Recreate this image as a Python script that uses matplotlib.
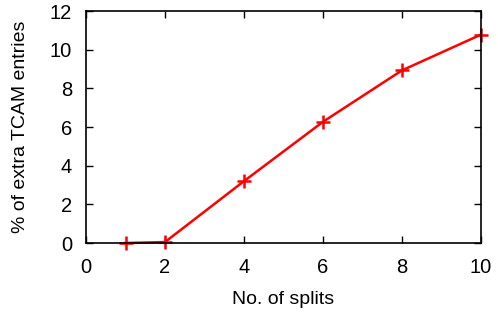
import matplotlib
matplotlib.use("Agg")
import matplotlib.pyplot as plt

splits = [1, 2, 4, 6, 8, 10]
extra_pct = [0.0, 0.05, 3.2, 6.27, 8.93, 10.78]

plt.rcParams['font.family'] = ['Liberation Sans', 'DejaVu Sans']

fig = plt.figure(figsize=(4.98, 3.18), dpi=100)
ax = fig.add_axes([0.1727, 0.2358, 0.9659 - 0.1727, 0.9654 - 0.2358])
ax.plot(splits, extra_pct, color='red', lw=1.8, marker='+', ms=10, mew=1.8, clip_on=False)

ax.set_xlim(0, 10)
ax.set_ylim(0, 12)
ax.set_xticks(range(0, 11, 2))
ax.set_yticks(range(0, 13, 2))
ax.tick_params(direction='in', top=True, right=True, length=5, width=1, labelsize=14.5)
ax.tick_params(axis='x', pad=11)
ax.tick_params(axis='y', pad=10)
for s in ax.spines.values():
    s.set_linewidth(1.2)
ax.set_xlabel('No. of splits', fontsize=14, labelpad=10)
ax.set_ylabel('% of extra TCAM entries', fontsize=14, labelpad=15)

fig.savefig('out.png', dpi=100)
